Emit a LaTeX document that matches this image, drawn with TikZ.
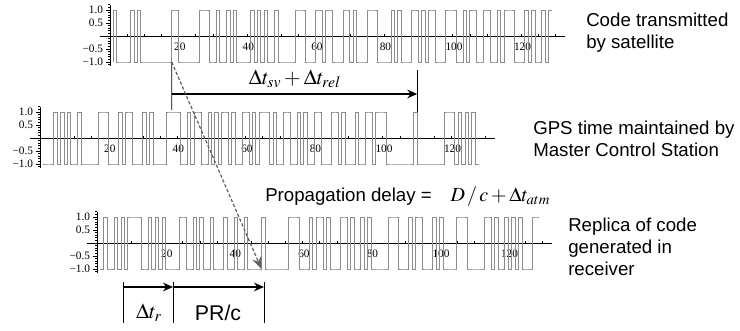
\documentclass[tikz,border=0pt]{standalone}
\usepackage{mathptmx}
\usepackage{fontspec}
\setmainfont{Liberation Sans}
\newfontfamily\tickfont{Liberation Serif}
\usetikzlibrary{arrows.meta}

%% one code plot: origin, chips, extra code inside, name prefix
\newcommand{\chipplot}[4]{%
  \begin{scope}[shift={#1}, x=2.57pt, y=19.5pt]
    \draw[axis] (-2.9,0) -- (132.7,0);
    \draw[axis] (0,-1.15) -- (0,1.2);
    \foreach \v in {-11,...,12} \draw[axis] (0,{\v/10}) -- ++(-1.5pt,0);
    \foreach \v in {-1,-0.5,0.5,1} \draw[axis] (0,\v) -- ++(-3pt,0);
    \foreach \u in {5,10,...,130} \draw[axis] (\u,0) -- ++(0,1.5pt);
    \foreach \v/\t [count=\k] in {1/1.0,0.5/0.5,-0.5/−0.5,-1/−1.0}
      \node[ticklab, anchor=east] (#4ylab\k) at ([xshift=-4.5pt]0,\v) {\t};
    \foreach \u in {20,40,...,120}
      \node[ticklab, anchor=north] (#4xlab\u) at ([xshift=1pt]\u,-0.22) {\u};
    %% chips
    \draw[wave] (1,-1) \foreach \b [count=\i from 2] in {#2} { |- (\i,{2*\b-1}) };
    #3
  \end{scope}}

\begin{document}
\begin{tikzpicture}[x=0.75pt, y=-0.75pt, >={Stealth[length=7.5pt,width=6.5pt]},
    wave/.style={gray!90, line width=0.6pt},
    axis/.style={black, line width=0.45pt},
    ticklab/.style={font=\tickfont\fontsize{8.5}{9}\selectfont, inner sep=0.5pt},
    caption/.style={font=\fontsize{14}{16.5}\selectfont, align=left, anchor=west, inner sep=0pt},
    mathlab/.style={font=\fontsize{16}{18}\selectfont},
    dimv/.style={black, line width=0.6pt},
    dimh/.style={black, line width=1.2pt}]
    \useasboundingbox (0,0) rectangle (740,331);

    %% code transmitted by satellite
    \chipplot{(110,36)}{1,0,0,0,0,1,0,1,0,0,0,0,0,0,0,0,0,1,1,0,0,0,0,0,0,1,1,1,0,0,1,0,0,1,0,1,0,
        0,0,0,1,0,1,0,1,0,0,1,0,0,0,0,0,1,1,1,0,0,0,1,1,0,1,1,0,0,0,1,1,0,1,0,0,0,1,1,1,
        0,0,0,0,1,0,1,0,0,0,1,1,0,1,0,1,1,0,0,0,1,1,1,0,0,1,0,1,1,0,0,1,1,0,0,1,0,1,1,1,
        0,0,0,1,0,1,0,0,1,0,1}{\coordinate (sv) at (18,-1);}{sat}
    %% GPS time
    \chipplot{(40,138)}{0,0,0,1,0,1,0,1,0,0,1,0,0,0,0,0,1,1,1,0,0,0,1,0,1,1,0,0,0,1,0,1,0,0,0,0,1,1,1,1,
        0,0,1,0,1,1,0,0,1,0,1,0,1,1,0,1,0,0,1,1,0,1,0,1,1,1,0,1,0,0,1,1,0,0,1,0,1,0,0,1,
        1,0,0,0,1,1,0,1,0,0,0,1,0,0,1,1,0,1,1,
        1,0,0,0,0,0,0,0,0,1,0,0,0,0,0,0,0,0,1,1,1,0,1,0,1,0,1,0}{\coordinate (gps) at (110,1);}{gps}
    %% replica in receiver
    \chipplot{(97,243)}{0,1,0,0,1,0,1,0,1,1,1,1,0,0,1,0,1,0,1,0,0,0,0,1,1,0,0,1,0,1,0,0,1,0,0,0,1,0,0,1,
        0,0,1,0,0,0,0,1,0,0,0,0,0,0,0,1,1,1,0,0,0,1,0,1,1,0,1,0,0,0,1,1,0,1,0,0,1,0,1,
        0,0,0,0,0,1,1,1,0,0,0,1,0,1,1,0,0,0,1,0,1,0,0,0,0,1,1,1,0,0,0,0,0,1,1,0,1,0,0,
        1,0,1,0,1,0,0,0,1,1}{\coordinate (rx) at (48,-1);}{rep}

    %% captions
    \node[caption] (sattxt) at (586,33) {Code transmitted\\by satellite};
    \node[caption] (gpstxt) at (533,138.5) {GPS time maintained by\\Master Control Station};
    \node[caption] (reptxt) at (568,246.5) {Replica of code\\generated in\\receiver};
    \node[anchor=west, inner sep=0pt, font=\fontsize{14}{16}\selectfont] (prop) at (265,197)
        {Propagation delay =\hspace{1em}{\fontsize{15}{16}\selectfont$D\,/\,c+\Delta t_{atm}$}};

    %% clock offsets
    \coordinate (svfoot) at (171.7,110);
    \coordinate (svbar) at (171.7,94);
    \coordinate (gpsbar) at (417.3,94);
    \draw[dimv] (sv) -- (svfoot);
    \draw[dimv] (gps) -- ++(0,-42);
    \draw[dimh,->] (svbar) -- (gpsbar);
    \node[mathlab] (offs) at (295,79) {$\Delta t_{sv}+\Delta t_{rel}$};

    %% propagation
    \draw[gray!75!black, dashed, dash pattern=on 2.5pt off 1.5pt, line width=0.9pt,
          -{Stealth[length=9pt,width=7pt]}] (sv) -- (rx);

    %% receiver offset and pseudorange
    \coordinate (ar0) at (123,287);
    \coordinate (ar1) at (173,287);
    \coordinate (ar2) at (264,287);
    \foreach \c in {ar0,ar1,ar2} \draw[dimv] (\c) ++(0,-5) -- ++(0,41);
    \draw[dimh,->] (ar0) -- (ar1);
    \draw[dimh,->] (ar1) -- (ar2);
    \node[mathlab] (dtr) at (149,313) {$\Delta t_r$};
    \node[mathlab] (prc) at (218,313) {PR/c};
\end{tikzpicture}
\end{document}
